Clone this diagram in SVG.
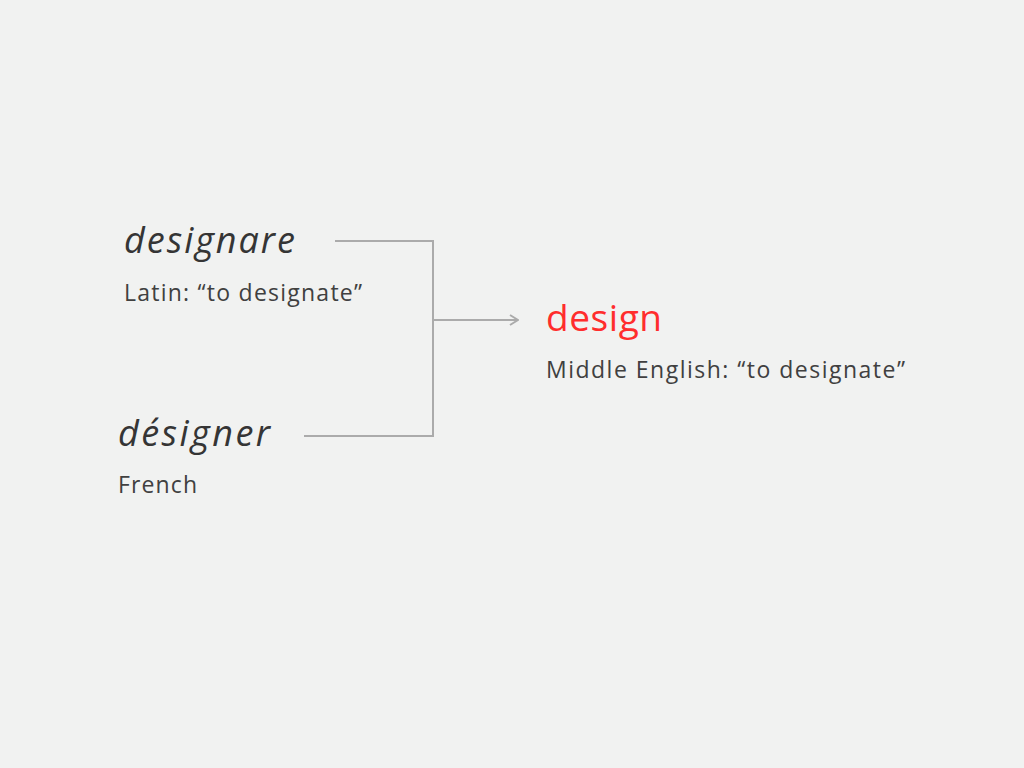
<svg xmlns="http://www.w3.org/2000/svg" width="1024" height="768" viewBox="0 0 1024 768">
<style>
.word{font-family:"Open Sans","Noto Sans",sans-serif;font-size:36px;fill:#353535;font-style:italic}
.sub{font-family:"Open Sans","Noto Sans",sans-serif;font-size:23px;fill:#404040}
.red{font-family:"Open Sans","Noto Sans",sans-serif;font-size:37px;fill:#ff2d2d}
.conn{fill:none;stroke:#ababab;stroke-width:2}
</style>
<defs>
<marker id="arr" viewBox="0 0 10 12" refX="9" refY="6" markerWidth="10" markerHeight="12" markerUnits="userSpaceOnUse" orient="auto">
<path d="M1,1 L9,6 L1,11" fill="none" stroke="#ababab" stroke-width="2"/>
</marker>
</defs>
<rect width="1024" height="768" fill="#f1f2f1"/>
<g id="connectors">
<path class="conn" d="M335,241 H433 V436 H304"/>
<path class="conn" d="M433,320 H518" marker-end="url(#arr)"/>
</g>
<g id="designare">
<text class="word" x="124" y="253" textLength="171" lengthAdjust="spacing">designare</text>
<text class="sub" x="124" y="301" textLength="238" lengthAdjust="spacing">Latin: “to designate”</text>
</g>
<g id="designer">
<text class="word" x="118" y="446" textLength="152" lengthAdjust="spacing">désigner</text>
<text class="sub" x="118" y="493" textLength="79" lengthAdjust="spacing">French</text>
</g>
<g id="design">
<text class="red" x="546" y="331" textLength="116" lengthAdjust="spacing">design</text>
<text class="sub" x="546" y="378" textLength="359" lengthAdjust="spacing">Middle English: “to designate”</text>
</g>
</svg>
